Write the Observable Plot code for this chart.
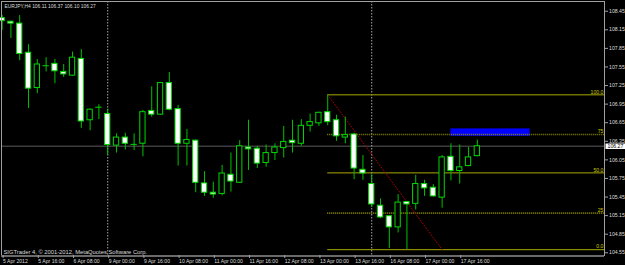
<!DOCTYPE html>
<html><head><meta charset="utf-8">
<script src="https://cdn.jsdelivr.net/npm/d3@7"></script>
<script src="https://cdn.jsdelivr.net/npm/@observablehq/plot@0.6"></script>
<style>
html,body{margin:0;padding:0;background:#000;}
#chart{width:625px;height:265px;overflow:hidden;}
#chart svg{display:block;}
</style></head><body><div id="chart"></div>
<script>
// H4 bars, index 0 = 5 Apr 2012 00:00
const bars   = d3.range(55);
const opens  = [108.34,108.28,108.25,107.78,107.21,107.57,107.60,107.47,107.41,107.68,106.69,106.90,106.79,106.28,106.41,106.30,106.31,106.84,106.78,107.29,106.87,106.31,106.36,105.67,105.52,105.50,105.81,105.68,106.25,106.23,106.00,106.16,106.24,106.36,106.31,106.60,106.64,106.82,106.69,106.41,106.46,105.89,105.66,105.31,105.14,104.96,105.37,105.34,105.66,105.60,105.44,106.10,105.87,105.95,106.11];
const highs  = [108.38,108.29,108.38,107.91,107.67,107.70,107.67,107.59,107.79,107.83,106.87,106.94,106.87,106.47,106.48,106.47,106.85,107.23,107.30,107.46,106.93,106.54,106.37,105.86,105.69,105.96,106.16,106.36,106.69,106.27,106.29,106.31,106.59,106.69,106.70,106.79,106.82,107.10,106.77,106.74,106.48,106.12,105.81,105.42,105.15,105.49,105.38,105.80,105.72,105.65,106.12,106.31,106.29,106.25,106.37];
const lows   = [108.14,108.01,107.65,106.88,107.12,107.47,107.28,107.38,107.40,106.56,106.52,106.70,106.12,106.16,106.21,106.20,106.10,106.74,106.77,106.84,105.95,105.95,105.52,105.46,105.43,105.47,105.53,105.67,105.88,105.91,105.93,106.04,106.08,106.16,106.27,106.50,106.59,106.60,106.35,106.31,105.73,105.72,105.28,105.10,104.62,104.87,104.60,105.24,105.46,105.45,105.27,105.71,105.66,105.94,106.10];
const closes = [108.29,108.25,107.76,107.20,107.59,107.57,107.48,107.43,107.70,106.67,106.86,106.90,106.29,106.41,106.31,106.30,106.82,106.78,107.29,106.86,106.31,106.37,105.68,105.52,105.49,105.83,105.70,106.27,106.22,105.99,106.16,106.25,106.34,106.32,106.60,106.66,106.81,106.66,106.43,106.45,105.91,105.83,105.33,105.12,104.96,105.36,105.33,105.66,105.59,105.46,106.09,105.87,105.93,106.09,106.27];

const xTickBars   = [0,4,8,12,16,20,24,28,32,36,40,44,48,52];
const xTickLabels = ["5 Apr 2012","5 Apr 16:00","6 Apr 08:00","9 Apr 00:00","9 Apr 16:00","10 Apr 08:00","11 Apr 00:00","11 Apr 16:00","12 Apr 08:00","13 Apr 00:00","13 Apr 16:00","16 Apr 08:00","17 Apr 00:00","17 Apr 16:00"];
const yTicks = [108.45,108.15,107.85,107.55,107.25,106.95,106.65,106.35,106.05,105.75,105.45,105.15,104.85,104.55];

const separatorBars = [12, 42];
const lastPrice = 106.27;

const fibLabels = ["0.0","25","50.0","75","100.0"];
const fibPrices = [104.60,105.19,105.84,106.46,107.10];
const fibSolid  = [true,false,true,false,true];
const fibStartBar = 37;

const trendBars   = [37, 50];
const trendPrices = [107.10, 104.60];

const boxBars   = [51, 60];
const boxPrices = [106.43, 106.55];

const title = "EURJPY,H4 106.11 106.37 106.10 106.27";
const copyright = "SIGTrader 4, \u00A9 2001-2012, MetaQuotes Software Corp.";

const data = bars.map(i => ({i, o: opens[i], h: highs[i], l: lows[i], c: closes[i]}));
const fib = fibPrices.map((p, k) => ({p, label: fibLabels[k], solid: fibSolid[k]}));
const trend = trendBars.map((b, k) => ({b, p: trendPrices[k]}));
const XMIN = -0.07, XMAX = 68.45;
const YMIN = 104.506, YMAX = 108.607;
const W = 0.3;
const font = "Liberation Sans, Arial, sans-serif";

const chart = Plot.plot({
  width: 625, height: 265,
  marginLeft: 1, marginRight: 21, marginTop: 1, marginBottom: 10,
  style: {background: "#000", color: "#d0d0d0", fontFamily: font, fontSize: "5px", overflow: "visible"},
  x: {domain: [XMIN, XMAX], axis: null},
  y: {domain: [YMIN, YMAX], axis: null},
  marks: [
    Plot.rect([0], {x1: () => boxBars[0], x2: () => boxBars[1], y1: () => boxPrices[0], y2: () => boxPrices[1], fill: "#0000ff"}),
    Plot.ruleY([lastPrice], {stroke: "#3c3c3c", strokeWidth: 1.5}),
    Plot.ruleX(separatorBars, {stroke: "#a8a8a8", strokeDasharray: "1.5,1.5"}),
    Plot.ruleY(fib.filter(d => d.solid), {y: "p", x1: fibStartBar, x2: XMAX, stroke: "#a8a800"}),
    Plot.ruleY(fib.filter(d => !d.solid), {y: "p", x1: fibStartBar, x2: XMAX, stroke: "#8a8a00", strokeWidth: 1.6, strokeDasharray: "1,1"}),
    Plot.text(fib, {y: "p", text: "label", frameAnchor: "right", textAnchor: "end", dx: -1, dy: -3, fill: "#c8c800", fontSize: 5.2}),
    Plot.line(trend, {x: "b", y: "p", stroke: "#b00000", strokeDasharray: "1,2", strokeWidth: 1}),
    Plot.ruleX(data, {x: "i", y1: "l", y2: "h", stroke: "#00c000"}),
    Plot.rect(data.filter(d => d.o !== d.c), {x1: d => d.i - W, x2: d => d.i + W, y1: "o", y2: "c", fill: d => d.c < d.o ? "#ffffff" : "#000000", stroke: "#00d800"}),
    Plot.ruleY(data.filter(d => d.o === d.c), {y: "c", x1: d => d.i - W - 0.06, x2: d => d.i + W + 0.06, stroke: "#00d800"}),
    Plot.frame({stroke: "#a0a0a0"}),
    Plot.ruleY([YMIN], {x1: XMIN, x2: XMAX, stroke: "#6a6a6a", strokeWidth: 2, dy: 0.5}),
    Plot.axisY(yTicks, {anchor: "right", tickSize: 3, tickPadding: 1.5, tickFormat: d => d.toFixed(2), stroke: "#a0a0a0", fill: "#dcdcdc", fontSize: 5.2}),
    Plot.axisX(xTickBars, {anchor: "bottom", tickSize: 3, tickPadding: 0.5, tickFormat: d => xTickLabels[xTickBars.indexOf(d)], textAnchor: "start", dx: 1, stroke: "#a0a0a0", fill: "#dcdcdc", fontSize: 5.1}),
    Plot.ruleY([lastPrice], {x1: 68.62, x2: 72, stroke: "#ffffff", strokeWidth: 5.5}),
    Plot.text([lastPrice], {y: d => d, text: d => d.toFixed(2), frameAnchor: "right", textAnchor: "start", dx: 3, fill: "#000000", fontSize: 5.2}),
    Plot.text([title], {frameAnchor: "top-left", text: d => d, textAnchor: "start", lineAnchor: "top", dx: 3, dy: 3, fill: "#dcdcdc", fontSize: 4.9}),
    Plot.text([copyright], {frameAnchor: "bottom-left", text: d => d, textAnchor: "start", lineAnchor: "bottom", dx: 2, dy: -1.5, fill: "#dcdcdc", fontSize: 5.8})
  ]
});
document.getElementById("chart").appendChild(chart);
</script>
</body></html>
